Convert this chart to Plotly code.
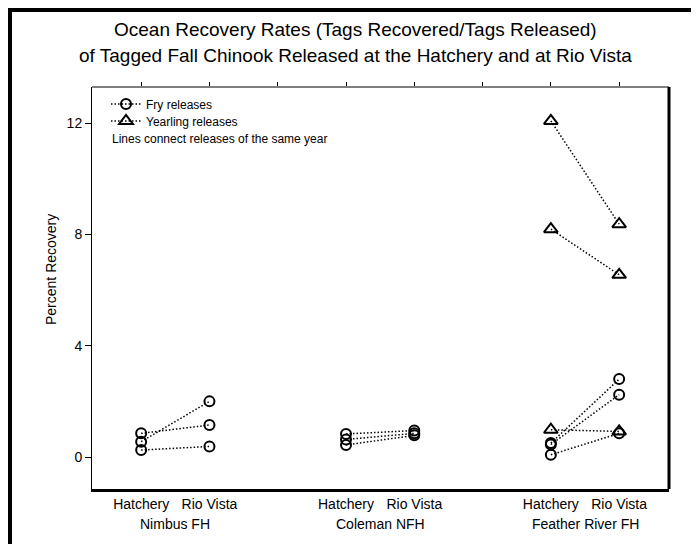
import plotly.graph_objects as go

# ---------------- data ----------------
sites = ["Nimbus FH", "Coleman NFH", "Feather River FH"]
release_points = ["Hatchery", "Rio Vista"]

fry_site = ["Nimbus FH"] * 3 + ["Coleman NFH"] * 3 + ["Feather River FH"] * 3
fry_hatchery = [0.85, 0.55, 0.25, 0.83, 0.63, 0.43, 0.50, 0.45, 0.08]
fry_riovista = [1.15, 2.00, 0.38, 0.95, 0.85, 0.78, 2.80, 2.24, 0.85]

yearling_site = ["Feather River FH"] * 3
yearling_hatchery = [12.08, 8.19, 0.98]
yearling_riovista = [8.37, 6.55, 0.92]

y_ticks = [0, 4, 8, 12]

# ---------------- layout geometry ----------------
W, H = 699, 544
L, R, T, B = 84, 38, 79, 63
PW, PH = W - L - R, H - T - B


def px_x(px):
    return (px - L) / PW


def px_y(py):
    return (H - B - py) / PH


def site_x(site, point):
    return 3 * sites.index(site) + 1 + release_points.index(point)


def pairs(site_list, hat, rv):
    xs, ys = [], []
    for s, a, b in zip(site_list, hat, rv):
        xs += [site_x(s, "Hatchery"), site_x(s, "Rio Vista"), None]
        ys += [a, b, None]
    return xs, ys


dash = "1.5px,2px"
fig = go.Figure()

fx, fy = pairs(fry_site, fry_hatchery, fry_riovista)
fig.add_trace(go.Scatter(
    x=fx, y=fy, mode="lines+markers", name="Fry releases", legend="legend",
    line=dict(color="black", width=1.5, dash=dash),
    marker=dict(symbol="circle-open", size=10, color="black", line=dict(width=2)),
))
yx, yy = pairs(yearling_site, yearling_hatchery, yearling_riovista)
fig.add_trace(go.Scatter(
    x=yx, y=yy, mode="lines+markers", name="Yearling releases", legend="legend2",
    line=dict(color="black", width=1.5, dash=dash),
    marker=dict(symbol="triangle-up-open", size=12, color="black", line=dict(width=2)),
))

tickvals, ticktext = [], []
for s in sites:
    for p in release_points:
        tickvals.append(site_x(s, p))
        ticktext.append(p)

xr = [0.28, 8.73]
leg_common = dict(xanchor="left", yanchor="middle", font=dict(size=12),
                  bgcolor="rgba(0,0,0,0)", borderwidth=0)
fig.update_layout(
    width=W, height=H,
    margin=dict(l=L, r=R, t=T, b=B),
    paper_bgcolor="white", plot_bgcolor="white",
    font=dict(family="Liberation Sans, Arial, sans-serif", size=14, color="black"),
    showlegend=True,
    legend=dict(x=px_x(98), y=px_y(96), **leg_common),
    legend2=dict(x=px_x(98), y=px_y(113), **leg_common),
    xaxis=dict(range=xr, tickvals=tickvals, ticktext=ticktext, showgrid=False,
               zeroline=False, showline=True, linewidth=3, linecolor="black",
               ticks="", tickfont=dict(size=14)),
    xaxis2=dict(range=xr, overlaying="x", side="top", matches="x",
                tickvals=list(range(1, 9)), ticks="outside", ticklen=4,
                tickwidth=1, tickcolor="black", showticklabels=False,
                showgrid=False, zeroline=False, showline=False),
    yaxis=dict(range=[-1.15, 13.3], tickvals=y_ticks, showgrid=False,
               zeroline=False, showline=True, linewidth=1, linecolor="black",
               ticks="outside", ticklen=6, tickwidth=1, tickcolor="black",
               tickfont=dict(size=14)),
)
# dummy trace to activate top axis
fig.add_trace(go.Scatter(x=[None], y=[None], xaxis="x2", showlegend=False))

# frame: thin top, thick right
fig.add_shape(type="line", xref="paper", yref="paper", x0=0, x1=1, y0=1, y1=1,
              line=dict(color="black", width=1))
fig.add_shape(type="line", xref="paper", yref="paper", x0=1, x1=1, y0=0, y1=1,
              line=dict(color="black", width=3))
# outer page border (left and top)
fig.add_shape(type="line", xref="paper", yref="paper", x0=px_x(2), x1=px_x(2),
              y0=px_y(0), y1=px_y(H), line=dict(color="black", width=4))
fig.add_shape(type="line", xref="paper", yref="paper", x0=px_x(0), x1=px_x(W),
              y0=px_y(2), y1=px_y(2), line=dict(color="black", width=4))

# titles
fig.add_annotation(text="Ocean Recovery Rates (Tags Recovered/Tags Released)",
                   xref="paper", yref="paper", x=px_x(W / 2 - 2), y=px_y(22),
                   showarrow=False, font=dict(size=19), xanchor="center", yanchor="middle")
fig.add_annotation(text="of Tagged Fall Chinook Released at the Hatchery and at Rio Vista",
                   xref="paper", yref="paper", x=px_x(W / 2 - 2), y=px_y(48),
                   showarrow=False, font=dict(size=19), xanchor="center", yanchor="middle")
# y title
fig.add_annotation(text="Percent Recovery", textangle=-90, xref="paper", yref="paper",
                   x=px_x(43), y=px_y(262), showarrow=False, font=dict(size=14),
                   xanchor="center", yanchor="middle")
# note
fig.add_annotation(text="Lines connect releases of the same year", xref="paper", yref="paper",
                   x=px_x(102), y=px_y(131), showarrow=False, font=dict(size=12),
                   xanchor="left", yanchor="middle")
# group labels
for s in sites:
    fig.add_annotation(text=s, xref="x", yref="paper",
                       x=(site_x(s, "Hatchery") + site_x(s, "Rio Vista")) / 2,
                       y=px_y(516), showarrow=False, font=dict(size=14),
                       xanchor="center", yanchor="middle")

fig.write_html("out.html")
